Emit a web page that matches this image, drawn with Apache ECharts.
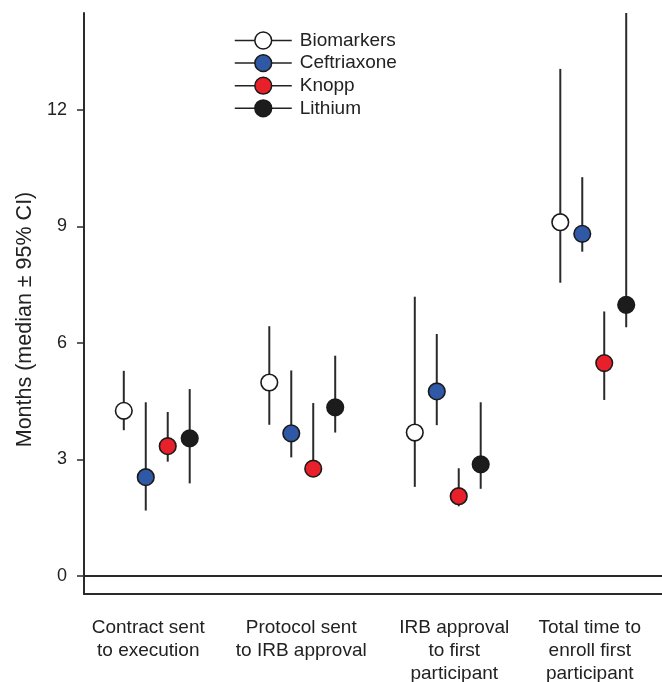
<!DOCTYPE html>
<html>
<head>
<meta charset="utf-8">
<script src="https://cdn.jsdelivr.net/npm/echarts@6/dist/echarts.min.js"></script>
<style>
html,body{margin:0;padding:0;background:#fff;}
#chart{width:662px;height:682px;}
</style>
</head>
<body>
<div id="chart"></div>
<script>
// ---- data ----
const categories = ['Contract sent\nto execution', 'Protocol sent\nto IRB approval', 'IRB approval\nto first\nparticipant', 'Total time to\nenroll first\nparticipant'];
const seriesNames = ['Biomarkers', 'Ceftriaxone', 'Knopp', 'Lithium'];
const yTicks = [0, 3, 6, 9, 12];

// medians and 95% CI bounds, one value per category
const biomarkersMedian = [4.25, 4.98, 3.69, 9.11];
const biomarkersLow    = [3.75, 3.89, 2.29, 7.55];
const biomarkersHigh   = [5.28, 6.43, 7.19, 13.06];

const ceftriaxoneMedian = [2.54, 3.67, 4.75, 8.81];
const ceftriaxoneLow    = [1.68, 3.05, 3.88, 8.35];
const ceftriaxoneHigh   = [4.47, 5.29, 6.23, 10.27];

const knoppMedian = [3.34, 2.76, 2.05, 5.48];
const knoppLow    = [2.94, 2.63, 1.79, 4.53];
const knoppHigh   = [4.22, 4.45, 2.77, 6.81];

const lithiumMedian = [3.54, 4.34, 2.87, 6.98];
const lithiumLow    = [2.38, 3.69, 2.24, 6.40];
const lithiumHigh   = [4.81, 5.67, 4.47, 14.5];

// ---- styling ----
const fills = ['#ffffff', '#2f58a6', '#e8202a', '#1c1c1c'];
const FONT = '"Liberation Sans", Arial, sans-serif';
const INK = '#222';
// horizontal nudge of each category label (px padding: [right, left])
const labelNudge = [[17, 0], [2, 0], [0, 13], [7, 0]];

const groups = [
  [biomarkersMedian, biomarkersLow, biomarkersHigh],
  [ceftriaxoneMedian, ceftriaxoneLow, ceftriaxoneHigh],
  [knoppMedian, knoppLow, knoppHigh],
  [lithiumMedian, lithiumLow, lithiumHigh]
];

const OFFSET = 0.151; // fraction of category band between series

function makeRender(k) {
  return function (params, api) {
    const idx = api.value(0);
    const band = api.size([1, 0])[0];
    const dx = (k - 1.5) * band * OFFSET;
    const pm = api.coord([idx, api.value(1)]);
    const pl = api.coord([idx, api.value(2)]);
    const ph = api.coord([idx, api.value(3)]);
    const x = pm[0] + dx;
    return {
      type: 'group',
      children: [
        { type: 'line', shape: { x1: x, y1: ph[1], x2: x, y2: pl[1] },
          style: { stroke: '#2a2a2a', lineWidth: 2 } },
        { type: 'circle', shape: { cx: x, cy: pm[1], r: 8.3 },
          style: { fill: fills[k], stroke: '#1a1a1a', lineWidth: 1.6 } }
      ]
    };
  };
}

const series = [];
seriesNames.forEach(function (name, k) {
  // legend carrier
  series.push({
    name: name, type: 'line', data: [],
    symbol: 'circle',
    itemStyle: { color: fills[k], borderColor: '#1a1a1a', borderWidth: 1.5 },
    lineStyle: { width: 0 }
  });
});
seriesNames.forEach(function (name, k) {
  const g = groups[k];
  const s = {
    name: name, type: 'custom',
    renderItem: makeRender(k),
    encode: { x: 0, y: [1, 2, 3] },
    data: categories.map(function (c, i) { return [i, g[0][i], g[1][i], g[2][i]]; }),
    z: 3
  };
  if (k === 0) {
    s.markLine = {
      silent: true, symbol: 'none', animation: false,
      label: { show: false },
      lineStyle: { color: '#2a2a2a', width: 2, type: 'solid' },
      data: [{ yAxis: 0 }]
    };
  }
  series.push(s);
});

const chart = echarts.init(document.getElementById('chart'), null, { renderer: 'canvas' });
chart.setOption({
  animation: false,
  backgroundColor: '#fff',
  grid: { left: 84, top: 13, width: 582, bottom: 88, containLabel: false, outerBoundsMode: 'none' },
  legend: {
    data: seriesNames,
    orient: 'vertical',
    left: 234, top: 31, padding: 0,
    itemWidth: 57, itemHeight: 21, itemGap: 3.6,
    lineStyle: { color: '#222', width: 1.5, opacity: 1 },
    itemStyle: { borderColor: '#1a1a1a', borderWidth: 1.5 },
    textStyle: { fontFamily: FONT, fontSize: 19, color: INK, padding: [0, 0, 0, 3] },
    selectedMode: false
  },
  xAxis: {
    type: 'category',
    data: categories.map(function (c, i) {
      return { value: c, textStyle: { padding: [0, labelNudge[i][0], 0, labelNudge[i][1]] } };
    }),
    boundaryGap: true,
    axisLine: { onZero: false, lineStyle: { color: '#2a2a2a', width: 2 } },
    axisTick: { alignWithLabel: true, length: 11, lineStyle: { color: '#2a2a2a', width: 2 } },
    axisLabel: { fontFamily: FONT, fontSize: 19, color: INK, lineHeight: 23, margin: 22, interval: 0 },
    splitLine: { show: false }
  },
  yAxis: {
    type: 'value',
    min: -0.47, max: 14.5,
    name: 'Months (median ± 95% CI)',
    nameLocation: 'middle',
    nameGap: 47,
    nameTextStyle: { fontFamily: FONT, fontSize: 21.5, color: INK, padding: [0, 32, 0, 0] },
    axisLine: { show: true, lineStyle: { color: '#2a2a2a', width: 2 } },
    axisTick: { show: true, length: 7, customValues: yTicks, lineStyle: { color: '#2a2a2a', width: 1.5 } },
    axisLabel: { fontFamily: FONT, fontSize: 18, color: INK, margin: 17, customValues: yTicks },
    splitLine: { show: false }
  },
  series: series
});
</script>
</body>
</html>
